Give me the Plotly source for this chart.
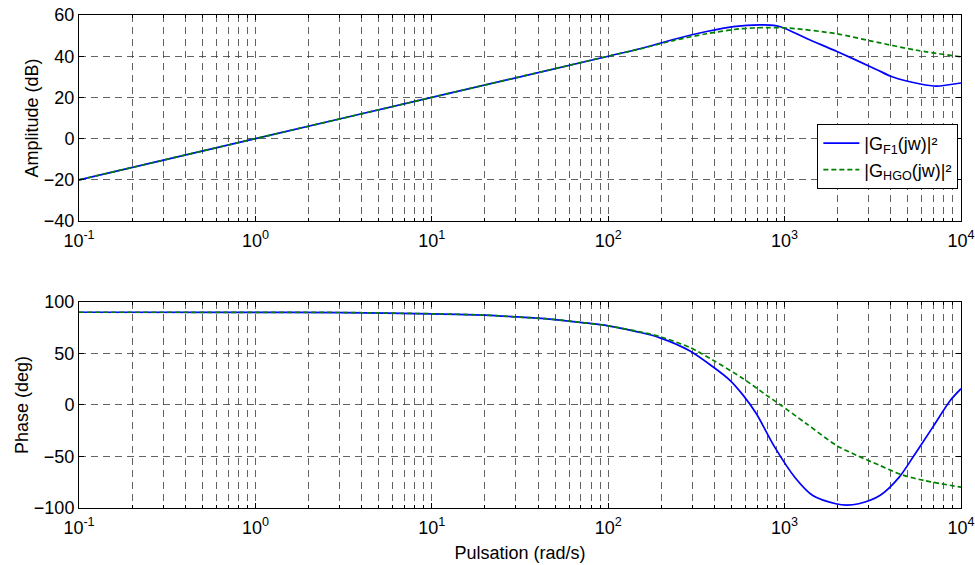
import plotly.graph_objects as go
from plotly.subplots import make_subplots

# ---------------- data ----------------
amp_blue_w = [0.1, 1, 10, 100, 151, 234, 361, 513, 724, 902, 1000, 1334, 1968, 3311, 4074, 5888, 7244, 10000]
amp_blue_db = [-20, 0, 20, 40, 43.6, 48.1, 52.0, 54.4, 55.2, 54.7, 53.6, 48.6, 42.4, 33.6, 30.0, 26.5, 25.5, 27.0]

amp_green_w = [0.1, 1, 10, 100, 151, 234, 361, 558, 791, 1072, 1968, 3162, 5598, 10000]
amp_green_db = [-20, 0, 20, 40, 43.5, 47.6, 50.9, 53.3, 53.9, 53.6, 50.9, 47.2, 42.9, 39.7]

ph_blue_w = [0.1, 1, 3.16, 10, 20, 30, 50, 70.8, 100, 151, 195, 291, 394, 490, 583, 692, 879,
             1148, 1445, 1950, 2239, 2630, 3467, 4467, 5370, 6918, 8710, 10000]
ph_blue_deg = [90, 89.9, 89.7, 88.5, 87.2, 85.5, 82.9, 80.0, 76.8, 70.5, 65.4, 52.4, 36.8, 23.9, 9.3, -8.5, -40.9,
               -70.6, -87.9, -95.9, -97.3, -95.9, -87.9, -70.0, -50.0, -21.5, 4.5, 15.8]

ph_green_w = [0.1, 1, 3.16, 10, 20, 30, 50, 70.8, 100, 151, 195, 291, 394, 583, 791, 940, 1330,
              1968, 2570, 3467, 4571, 6166, 10000]
ph_green_deg = [90, 89.9, 89.7, 88.5, 87.2, 85.5, 82.9, 80.0, 76.8, 71.0, 66.5, 55.7, 43.3, 25.5, 9.3, 0.5, -18.2,
                -39.3, -49.0, -58.7, -67.5, -73.3, -79.8]

x_tickvals = [0.1, 1, 10, 100, 1000, 10000]
x_ticktext = ["10<sup>-1</sup>", "10<sup>0</sup>", "10<sup>1</sup>", "10<sup>2</sup>", "10<sup>3</sup>", "10<sup>4</sup>"]
amp_ticks = [-40, -20, 0, 20, 40, 60]
ph_ticks = [-100, -50, 0, 50, 100]

label_blue = "|G<sub>F1</sub>(jw)|²"
label_green = "|G<sub>HGO</sub>(jw)|²"

# ---------------- figure ----------------
FONT = "Liberation Sans, Arial, Helvetica, sans-serif"
FS = 18
fig = make_subplots(rows=2, cols=1, shared_xaxes=False, vertical_spacing=0.0)

blue = "#0000ff"
green = "#008000"

fig.add_trace(go.Scatter(x=amp_blue_w, y=amp_blue_db, mode="lines", name=label_blue,
                         line=dict(color=blue, width=1.7, shape="spline", smoothing=0.8)), row=1, col=1)
fig.add_trace(go.Scatter(x=amp_green_w, y=amp_green_db, mode="lines", name=label_green,
                         line=dict(color=green, width=1.7, dash="5px,3px", shape="spline", smoothing=0.8)), row=1, col=1)
fig.add_trace(go.Scatter(x=ph_blue_w, y=ph_blue_deg, mode="lines", showlegend=False,
                         line=dict(color=blue, width=1.7, shape="spline", smoothing=0.8)), row=2, col=1)
fig.add_trace(go.Scatter(x=ph_green_w, y=ph_green_deg, mode="lines", showlegend=False,
                         line=dict(color=green, width=1.7, dash="5px,3px", shape="spline", smoothing=0.8)), row=2, col=1)

minor_vals = [m * 10 ** k for k in range(-1, 4) for m in range(2, 10)]
grid_col = "rgba(70,70,70,0.85)"

xcommon = dict(type="log", range=[-1, 4], tickmode="array", tickvals=x_tickvals, ticktext=x_ticktext,
               showline=True, linecolor="black", linewidth=1, mirror="allticks",
               ticks="inside", ticklen=5, tickcolor="black",
               showgrid=True, gridcolor=grid_col, gridwidth=1, griddash="7px,5px",
               minor=dict(tickmode="array", tickvals=minor_vals, ticks="inside", ticklen=3, tickcolor="black",
                          showgrid=True, gridcolor=grid_col, gridwidth=1, griddash="7px,5px"),
               zeroline=False, ticklabeloverflow="allow", ticklabelstandoff=3, automargin=False,
               tickfont=dict(family=FONT, size=FS, color="black"))

fig.update_xaxes(**xcommon, row=1, col=1)
fig.update_xaxes(**xcommon, row=2, col=1)
fig.update_xaxes(title=dict(text="Pulsation (rad/s)", font=dict(family=FONT, size=FS, color="black"), standoff=9),
                 row=2, col=1)

ycommon = dict(showline=True, linecolor="black", linewidth=1, mirror="ticks",
               ticks="inside", ticklen=5, tickcolor="black",
               showgrid=True, gridcolor=grid_col, gridwidth=1, griddash="7px,5px",
               zeroline=False, automargin=False, ticklabeloverflow="allow",
               tickfont=dict(family=FONT, size=FS, color="black"))
fig.update_yaxes(**ycommon, range=[-40, 60], tickmode="array", tickvals=amp_ticks,
                 title=dict(text="Amplitude (dB)", font=dict(family=FONT, size=FS, color="black"), standoff=0),
                 row=1, col=1)
fig.update_yaxes(**ycommon, range=[-100, 100], tickmode="array", tickvals=ph_ticks,
                 title=dict(text="Phase (deg)", font=dict(family=FONT, size=FS, color="black"), standoff=0),
                 row=2, col=1)

fig.update_layout(
    width=975, height=565,
    margin=dict(l=79, r=14, t=15, b=57, autoexpand=False),
    paper_bgcolor="white", plot_bgcolor="white",
    font=dict(family=FONT, size=FS, color="black"),
    xaxis=dict(domain=[0, 1]), xaxis2=dict(domain=[0, 1]),
    yaxis=dict(domain=[0.582, 1.0]), yaxis2=dict(domain=[0.0, 0.418]),
    legend=dict(x=0.997, y=0.779, xanchor="right", yanchor="top",
                bgcolor="white", bordercolor="black", borderwidth=1,
                font=dict(family=FONT, size=FS, color="black"),
                tracegroupgap=0, itemwidth=36),
    showlegend=True,
)

# remove the default 8px page margin so the 975x565 figure fills the window exactly
fig.write_html("out.html",
               config={"displayModeBar": False},
               post_script="document.body.style.margin='0';document.body.style.overflow='hidden';")
